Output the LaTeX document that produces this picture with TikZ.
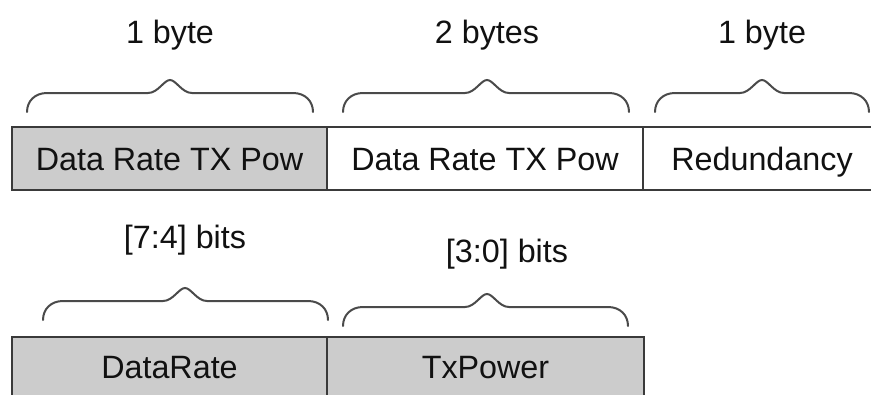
\documentclass[tikz,border=0pt]{standalone}
\usepackage{fontspec}
\setmainfont{Liberation Sans}
\definecolor{fieldgray}{HTML}{CCCCCC}
\definecolor{edgegray}{HTML}{3A3A3A}
\definecolor{bracegray}{HTML}{4A4A4A}
\definecolor{inkcol}{HTML}{111111}

% curly brace: left x, tip x, right x, y of the two feet
\newcommand\fieldbrace[4]{%
  \draw[bracestyle] (#1,#4) .. controls (#1,#4-11) and (#1+8,#4-19) .. (#1+20,#4-19)
    -- (#2-22,#4-19) .. controls (#2-12,#4-19) and (#2-6,#4-32) .. (#2,#4-32)
    .. controls (#2+6,#4-32) and (#2+12,#4-19) .. (#2+22,#4-19)
    -- (#3-20,#4-19) .. controls (#3-8,#4-19) and (#3,#4-11) .. (#3,#4);}

\begin{document}
\begin{tikzpicture}[x=1pt,y=-1pt,
  every node/.style={font=\fontsize{32.3}{37}\selectfont, text=inkcol},
  field/.style={draw=edgegray, line width=2pt, minimum height=63pt,
    inner sep=0pt, outer sep=0pt, text height=23.1pt, text depth=0pt},
  shaded/.style={field, fill=fieldgray},
  plain/.style={field, fill=white},
  lbl/.style={anchor=base, inner sep=0pt},
  bracestyle/.style={draw=bracegray, line width=2pt, line cap=round}]
\useasboundingbox (0,0) rectangle (871,394);
\clip (0,0) rectangle (871,394);

% frame layout: 1 + 2 + 1 bytes
\node[shaded, anchor=north west, minimum width=315pt] (f1) at (12,127) {Data Rate TX Pow};
\node[plain, anchor=north west, minimum width=316pt] (f2) at (f1.north east) {Data Rate TX Pow};
\node[plain, anchor=north west, minimum width=238pt] (f3) at (f2.north east) {Redundancy};

\fieldbrace{27}{170}{313}{112}
\fieldbrace{343}{487}{629}{112}
\fieldbrace{655}{762}{869}{112}
\node[lbl] (s1) at (170,43) {1 byte};
\node[lbl] (s2) at (487,43) {2 bytes};
\node[lbl] (s3) at (762,43) {1 byte};

% split of the first byte into bit fields
\node[shaded, anchor=north west, minimum width=315pt, minimum height=59pt] (b1) at (12,337) {DataRate};
\node[shaded, anchor=north west, minimum width=317pt, minimum height=59pt] (b2) at (b1.north east) {TxPower};

\fieldbrace{43}{185}{328}{320}
\fieldbrace{343}{487}{628}{326}
\node[lbl] (t1) at (185,248) {[7:4] bits};
\node[lbl] (t2) at (507,262) {[3:0] bits};
\end{tikzpicture}
\end{document}
